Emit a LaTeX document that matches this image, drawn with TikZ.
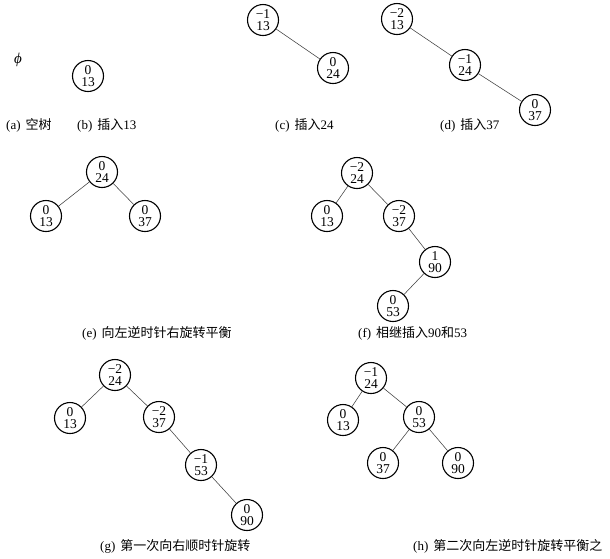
\documentclass[tikz,border=0pt]{standalone}
\usepackage{fontspec}
\setmainfont{Liberation Serif}
\newfontfamily\cjk{Noto Sans CJK SC}
\tikzset{
  avl/.style={circle, draw, line width=1.1pt, minimum size=31pt, inner sep=0pt,
    align=center, font=\fontsize{13.5}{12.5}\selectfont},
  link/.style={draw=black!75, line width=0.55pt},
  sublabel/.style={anchor=west, inner sep=0pt, font=\fontsize{13}{13}\selectfont}
}
\newcommand{\sub}[2]{(#1)\hspace{5pt}{\cjk #2}}

\begin{document}
\begin{tikzpicture}[x=1pt, y=-1pt]
    \useasboundingbox (0,0) rectangle (610,558);
    % (a) and (b)
    \node[font=\fontsize{15}{15}\selectfont\itshape] (phi) at (18,60) {ϕ};
    \node[avl] (b13) at (88,76) {0\\13};
    \node[sublabel] (capa) at (6,125) {\sub{a}{空树}};
    \node[sublabel] (capb) at (77,125) {\sub{b}{插入}13};
    % (c)
    \node[avl] (c13) at (263,20) {−1\\13};
    \node[avl] (c24) at (333,68) {0\\24};
    \draw[link] (c13) -- (c24);
    \node[sublabel] (capc) at (275,125) {\sub{c}{插入}24};
    % (d)
    \node[avl] (d13) at (397,19) {−2\\13};
    \node[avl] (d24) at (465,65) {−1\\24};
    \node[avl] (d37) at (535,110) {0\\37};
    \draw[link] (d13) -- (d24);
    \draw[link] (d24) -- (d37);
    \node[sublabel] (capd) at (440,125) {\sub{d}{插入}37};
    % (e)
    \node[avl] (e24) at (102,172) {0\\24};
    \node[avl] (e13) at (46,216) {0\\13};
    \node[avl] (e37) at (145,216) {0\\37};
    \draw[link] (e24) -- (e13);
    \draw[link] (e24) -- (e37);
    \node[sublabel] (cape) at (82,333) {\sub{e}{向左逆时针右旋转平衡}};
    % (f)
    \node[avl] (f24) at (357,173) {−2\\24};
    \node[avl] (f13) at (327,216) {0\\13};
    \node[avl] (f37) at (399,216) {−2\\37};
    \node[avl] (f90) at (435,262) {1\\90};
    \node[avl] (f53) at (393,306) {0\\53};
    \draw[link] (f24) -- (f13);
    \draw[link] (f24) -- (f37);
    \draw[link] (f37) -- (f90);
    \draw[link] (f90) -- (f53);
    \node[sublabel] (capf) at (358,333) {\sub{f}{相继插入}90{\cjk 和}53};
    % (g)
    \node[avl] (g24) at (115,375) {−2\\24};
    \node[avl] (g13) at (70,418) {0\\13};
    \node[avl] (g37) at (159,417) {−2\\37};
    \node[avl] (g53) at (201,465) {−1\\53};
    \node[avl] (g90) at (247,515) {0\\90};
    \draw[link] (g24) -- (g13);
    \draw[link] (g24) -- (g37);
    \draw[link] (g37) -- (g53);
    \draw[link] (g53) -- (g90);
    \node[sublabel] (capg) at (100,546) {\sub{g}{第一次向右顺时针旋转}};
    % (h)
    \node[avl] (h24) at (371,378) {−1\\24};
    \node[avl] (h13) at (343,420) {0\\13};
    \node[avl] (h53) at (419,417) {0\\53};
    \node[avl] (h37) at (383,463) {0\\37};
    \node[avl] (h90) at (458,463) {0\\90};
    \draw[link] (h24) -- (h13);
    \draw[link] (h24) -- (h53);
    \draw[link] (h53) -- (h37);
    \draw[link] (h53) -- (h90);
    \node[sublabel] (caph) at (413,546) {\sub{h}{第二次向左逆时针旋转平衡之}};
\end{tikzpicture}
\end{document}
